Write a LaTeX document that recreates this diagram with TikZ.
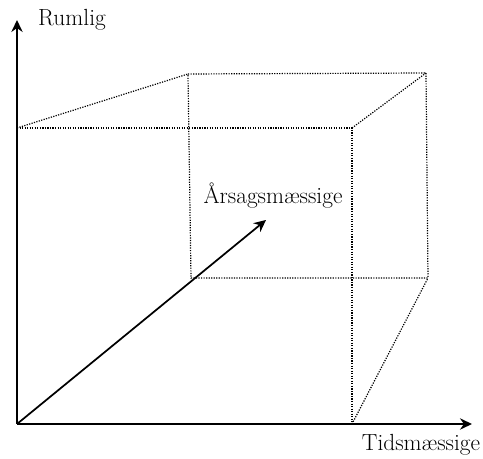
\documentclass[tikz,border=0pt]{standalone}
\usetikzlibrary{arrows.meta}
\begin{document}
\begin{tikzpicture}[x=0.75pt, y=-0.75pt, >={Stealth[length=9pt, width=8.5pt]},
    axis/.style={->, line width=1.3pt},
    edge/.style={densely dotted, line width=0.9pt},
    lbl/.style={font=\fontsize{17.5}{21}\selectfont, inner sep=0pt}]
    \useasboundingbox (0,0) rectangle (483,459);
    % Front face corners
    \coordinate (O) at (17,424);
    \coordinate (ftl) at (17,128);
    \coordinate (ftr) at (352,128);
    \coordinate (fbr) at (352,424);
    % Back face corners
    \coordinate (btl) at (188,74);
    \coordinate (btr) at (426,73);
    \coordinate (bbr) at (428,278);
    \coordinate (bbl) at (191,278);
    % Axis ends
    \coordinate (ytip) at (17,20);
    \coordinate (xtip) at (472,424);
    \coordinate (ztip) at (266,220);

    % Cube (dotted)
    \draw[edge] (ftl) -- (ftr) -- (fbr);
    \draw[edge] (btl) -- (btr) -- (bbr) -- (bbl) -- cycle;
    \draw[edge] (ftl) -- (btl);
    \draw[edge] (ftr) -- (btr);
    \draw[edge] (fbr) -- (bbr);

    % Axes
    \draw[axis] (O) -- (ytip);
    \draw[axis] (O) -- (xtip);
    \draw[axis] (O) -- (ztip);

    % Labels
    \node[lbl] (rumlig) at (72,20) {Rumlig};
    \node[lbl] (aarsag) at (273,196) {Årsagsmæssige};
    \node[lbl] (tid) at (421,445) {Tidsmæssige};
\end{tikzpicture}
\end{document}
